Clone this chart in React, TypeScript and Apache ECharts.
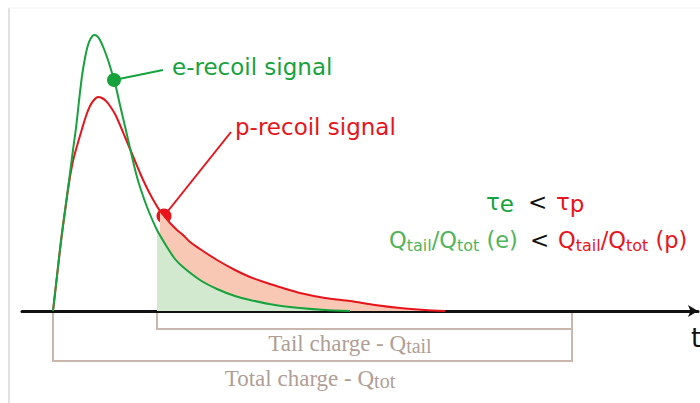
import React, { useEffect, useRef } from 'react';
import * as echarts from 'echarts';

// time (x) and signal amplitude (height above baseline)
const eTime = [53, 57, 61, 65, 69, 73, 76, 79, 82, 85, 88, 91, 94, 97, 100, 104, 108, 112, 115, 120, 127, 133, 137, 140, 147, 157, 167, 175, 183, 200, 217, 235, 250, 275, 300, 325, 350];
const eSignal = [0, 35, 70, 100, 130, 161, 183, 210, 235, 253, 266, 273, 276, 275, 271, 262, 251, 238, 228, 206, 176, 150, 134, 124, 104, 81, 64, 52, 44, 31, 22, 15, 11, 6, 3, 1, 0];
const pTime = [53, 57, 61, 65, 69, 73, 77, 82, 86, 90, 94, 98, 102, 106, 110, 115, 120, 125, 130, 135, 140, 145, 150, 155, 160, 165, 170, 177, 183, 190, 200, 217, 235, 250, 267, 283, 300, 325, 350, 375, 400, 425, 445];
const pSignal = [0, 35, 70, 100, 128, 150, 165, 182, 195, 205, 211, 214, 213, 210, 205, 197, 186, 174, 162, 150, 138, 127, 117, 108, 100, 94, 88, 81, 76, 69, 62, 51, 41, 34, 28, 23, 18, 13, 10, 6, 3, 1, 0];

const tailStart = 157;
const windowEnd = 572;
const totalStart = 53;
const eMarker = [114, 231];
const pMarker = [164, 95];
const eLabelAnchor = [163, 241];
const pLabelAnchor = [231, 179];

const GREEN = '#16a23c';
const RED = '#e8141c';
const LIGHT_GREEN = '#4fb55a';
const BRACKET = '#c9b7ad';
const BRACKET_TEXT = '#b09e95';

const pairs = (xs: number[], ys: number[]) => xs.map((x, i) => [x, ys[i]]);
const tail = (xs: number[], ys: number[]) => pairs(xs, ys).filter((p) => p[0] >= tailStart);

export default function App() {
  const ref = useRef<HTMLDivElement>(null);
  useEffect(() => {
    if (!ref.current) return;
    const chart = echarts.init(ref.current, undefined, { renderer: 'svg' });
    chart.setOption({
      animation: false,
      backgroundColor: '#ffffff',
      grid: { left: 22, right: 2, top: 0, bottom: 92 },
      xAxis: {
        type: 'value', min: 22, max: 698,
        axisLine: { show: true, lineStyle: { color: '#111', width: 3 }, symbol: ['none', 'arrow'], symbolSize: [9, 10] },
        axisTick: { show: false }, axisLabel: { show: false }, splitLine: { show: false },
      },
      yAxis: {
        type: 'value', min: 0, max: 311, show: false, splitLine: { show: false },
      },
      series: [
        { type: 'line', data: tail(pTime, pSignal), smooth: 0.25, symbol: 'none', lineStyle: { width: 0 }, areaStyle: { color: '#f9c8b5', opacity: 1 } },
        { type: 'line', data: tail(eTime, eSignal), smooth: 0.25, symbol: 'none', lineStyle: { width: 0 }, areaStyle: { color: '#d2e9cf', opacity: 1 } },
        { type: 'line', data: pairs(pTime, pSignal), smooth: 0.25, symbol: 'none', lineStyle: { color: RED, width: 2 } },
        { type: 'line', data: pairs(eTime, eSignal), smooth: 0.25, symbol: 'none', lineStyle: { color: GREEN, width: 2 } },
        { type: 'line', data: [eMarker, eLabelAnchor], symbol: 'none', lineStyle: { color: GREEN, width: 2 } },
        { type: 'line', data: [pMarker, pLabelAnchor], symbol: 'none', lineStyle: { color: RED, width: 2 } },
        { type: 'scatter', data: [eMarker], symbolSize: 14, itemStyle: { color: GREEN, opacity: 1 } },
        { type: 'scatter', data: [pMarker], symbolSize: 15, itemStyle: { color: RED, opacity: 1 } },
      ],
    });

    const px = (x: number) => chart.convertToPixel({ gridIndex: 0 }, [x, 0]) as number[];
    const a = px(tailStart), b = px(windowEnd), c = px(totalStart);
    const base = a[1];
    const tailBottom = base + 18;
    const totBottom = base + 50;
    const sans = 'DejaVu Sans';
    const serif = 'Liberation Serif';
    const qRich = (color: string) => ({
      m: { fontSize: 22.5, lineHeight: 26, fontFamily: sans, fill: color },
      s: { fontSize: 16, lineHeight: 15, fontFamily: sans, fill: color, verticalAlign: 'bottom' },
    });
    const tauRich = (color: string) => ({
      m: { fontSize: 23, lineHeight: 26, fontFamily: sans, fill: color },
      s: { fontSize: 23, lineHeight: 20, fontFamily: sans, fill: color, verticalAlign: 'bottom' },
    });
    const serifRich = {
      m: { fontSize: 23, lineHeight: 26, fontFamily: serif, fill: BRACKET_TEXT },
      s: { fontSize: 20, lineHeight: 20, fontFamily: serif, fill: BRACKET_TEXT, verticalAlign: 'bottom' },
    };

    chart.setOption({
      graphic: [
        { type: 'line', shape: { x1: 9, y1: 8, x2: 9, y2: 403 }, style: { stroke: '#d9d9d9', lineWidth: 1.5 } },
        { type: 'line', shape: { x1: 9, y1: 8, x2: 700, y2: 8 }, style: { stroke: '#f3f3f3', lineWidth: 1 } },
        { type: 'polyline', shape: { points: [[a[0], base + 1], [a[0], tailBottom], [b[0], tailBottom], [b[0], base + 1]] }, style: { stroke: BRACKET, lineWidth: 2, fill: null } },
        { type: 'polyline', shape: { points: [[c[0], base + 1], [c[0], totBottom], [b[0], totBottom], [b[0], tailBottom]] }, style: { stroke: BRACKET, lineWidth: 2, fill: null } },
        { type: 'text', x: 350, y: 343, style: { text: '{m|Tail charge - Q}{s|tail}', rich: serifRich, align: 'center', verticalAlign: 'middle' } },
        { type: 'text', x: 310, y: 378, style: { text: '{m|Total charge - Q}{s|tot}', rich: serifRich, align: 'center', verticalAlign: 'middle' } },
        { type: 'text', x: 691, y: 338, style: { text: 't', fontSize: 26, fontFamily: sans, fill: '#111', align: 'left', verticalAlign: 'middle' } },
        { type: 'text', x: 172, y: 67, style: { text: 'e-recoil signal', fontSize: 23, fontFamily: sans, fill: GREEN, align: 'left', verticalAlign: 'middle' } },
        { type: 'text', x: 235, y: 127, style: { text: 'p-recoil signal', fontSize: 23, fontFamily: sans, fill: RED, align: 'left', verticalAlign: 'middle' } },
        { type: 'text', x: 486, y: 202, style: { text: '{m|τ}{s|e}', rich: tauRich(GREEN), align: 'left', verticalAlign: 'middle' } },
        { type: 'text', x: 528, y: 202, style: { text: '<', fontSize: 23, fontFamily: sans, fill: '#111', align: 'left', verticalAlign: 'middle' } },
        { type: 'text', x: 556, y: 202, style: { text: '{m|τ}{s|p}', rich: tauRich(RED), align: 'left', verticalAlign: 'middle' } },
        { type: 'text', x: 389, y: 240, style: { text: '{m|Q}{s|tail}{m|/Q}{s|tot}{m| (e)}', rich: qRich(LIGHT_GREEN), align: 'left', verticalAlign: 'middle' } },
        { type: 'text', x: 530, y: 240, style: { text: '<', fontSize: 23, fontFamily: sans, fill: '#111', align: 'left', verticalAlign: 'middle' } },
        { type: 'text', x: 558, y: 240, style: { text: '{m|Q}{s|tail}{m|/Q}{s|tot}{m| (p)}', rich: qRich(RED), align: 'left', verticalAlign: 'middle' } },
      ],
    });

    return () => chart.dispose();
  }, []);
  return <div ref={ref} style={{ position: 'absolute', left: 0, top: 0, width: 700, height: 403, background: '#fff' }} />;
}
